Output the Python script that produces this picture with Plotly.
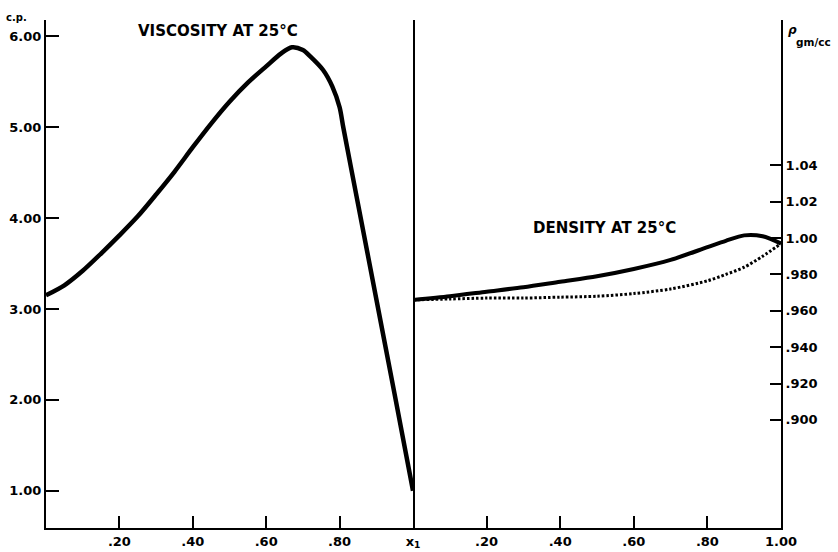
import plotly.graph_objects as go

# Viscosity at 25°C (c.p.) vs x1
visc_x = [0, 0.05, 0.1, 0.15, 0.2, 0.25, 0.3, 0.35, 0.4, 0.45, 0.5, 0.55, 0.6, 0.64,
          0.67, 0.7, 0.72, 0.755, 0.78, 0.8, 0.81, 0.85, 0.9, 0.95, 1.0]
visc_y = [3.15, 3.26, 3.42, 3.61, 3.81, 4.02, 4.26, 4.51, 4.78, 5.04, 5.28, 5.49, 5.67, 5.81,
          5.88, 5.85, 5.78, 5.63, 5.45, 5.22, 5.00, 4.16, 3.11, 2.06, 1.00]

# Density at 25°C (gm/cc) vs x1
dens_x = [0, 0.1, 0.2, 0.3, 0.4, 0.5, 0.6, 0.7, 0.8, 0.85, 0.9, 0.95, 1.0]
dens_solid = [0.966, 0.968, 0.9705, 0.973, 0.976, 0.979, 0.983, 0.988, 0.995, 0.9985, 1.0015, 1.001, 0.997]
dens_dotted = [0.966, 0.9665, 0.967, 0.967, 0.9675, 0.968, 0.9695, 0.972, 0.9765, 0.980, 0.984, 0.990, 0.997]

visc_ticks = [1, 2, 3, 4, 5, 6]
visc_ticktext = ["1.00", "2.00", "3.00", "4.00", "5.00", "6.00"]
dens_ticks = [0.90, 0.92, 0.94, 0.96, 0.98, 1.00, 1.02, 1.04]
dens_ticktext = [".900", ".920", ".940", ".960", ".980", "1.00", "1.02", "1.04"]
x1_ticks = [0.2, 0.4, 0.6, 0.8, 1.0]
x1_ticktext = [".20", ".40", ".60", ".80", "x<sub>1</sub>"]
x2_ticktext = [".20", ".40", ".60", ".80", "1.00"]

FONT = "DejaVu Sans"
tickfont = dict(family=FONT, size=13, color="black", weight="bold")

fig = go.Figure()
fig.add_trace(go.Scatter(x=visc_x, y=visc_y, mode="lines", xaxis="x", yaxis="y",
                         line=dict(color="black", width=4.5, shape="spline", smoothing=0.8),
                         showlegend=False, hoverinfo="skip"))
fig.add_trace(go.Scatter(x=dens_x, y=dens_solid, mode="lines", xaxis="x2", yaxis="y2",
                         line=dict(color="black", width=4, shape="spline", smoothing=0.8),
                         showlegend=False, hoverinfo="skip"))
fig.add_trace(go.Scatter(x=dens_x, y=dens_dotted, mode="lines", xaxis="x2", yaxis="y2",
                         line=dict(color="black", width=3, shape="spline", smoothing=0.8,
                                   dash="2.5px,2px"),
                         showlegend=False, hoverinfo="skip"))

split = 367 / 735
axis_common = dict(showgrid=False, zeroline=False, showline=True, linecolor="black",
                   linewidth=2, ticks="inside", tickcolor="black", tickwidth=2,
                   tickfont=tickfont, fixedrange=True, automargin=False)

fig.update_layout(
    width=838, height=552,
    margin=dict(l=46, r=57, t=20, b=24, pad=0, autoexpand=False),
    paper_bgcolor="white", plot_bgcolor="white",
    xaxis=dict(domain=[0, split], range=[0, 1], tickmode="array", tickvals=x1_ticks,
               ticktext=x1_ticktext, ticklen=12, anchor="y", **axis_common),
    yaxis=dict(range=[0.59, 6.18], tickmode="array", tickvals=visc_ticks,
               ticktext=visc_ticktext, ticklen=13, anchor="x", mirror=True,
               **axis_common),
    xaxis2=dict(domain=[split, 1], range=[0, 1], tickmode="array", tickvals=x1_ticks,
                ticktext=x2_ticktext, ticklen=12, anchor="y2", **axis_common),
    yaxis2=dict(range=[0.8405, 1.120], tickmode="array", tickvals=dens_ticks,
                ticktext=dens_ticktext, ticklen=11, anchor="x2", side="right",
                **axis_common),
    annotations=[
        dict(text="VISCOSITY AT 25°C", xref="x", yref="y", x=0.47, y=6.06,
             showarrow=False, font=dict(family=FONT, size=15, color="black", weight="bold")),
        dict(text="DENSITY AT 25°C", xref="x2", yref="y2", x=0.52, y=1.0055,
             showarrow=False, font=dict(family=FONT, size=15, color="black", weight="bold")),
        dict(text="c.p.", xref="paper", yref="paper", x=-0.04, y=1.005, xanchor="center",
             yanchor="middle", showarrow=False,
             font=dict(family=FONT, size=10, color="black", weight="bold")),
        dict(text="<i>ρ</i>", xref="paper", yref="paper", x=1.016, y=0.981,
             xanchor="center", yanchor="middle", showarrow=False,
             font=dict(family=FONT, size=12, color="black", weight="bold")),
        dict(text="gm/cc", xref="paper", yref="paper", x=1.044, y=0.956,
             xanchor="center", yanchor="middle", showarrow=False,
             font=dict(family=FONT, size=10.5, color="black", weight="bold")),
    ],
)

fig.write_html(
    "out.html",
    config={"displayModeBar": False},
    post_script="document.body.style.margin='0';document.documentElement.style.overflow='hidden';",
)
